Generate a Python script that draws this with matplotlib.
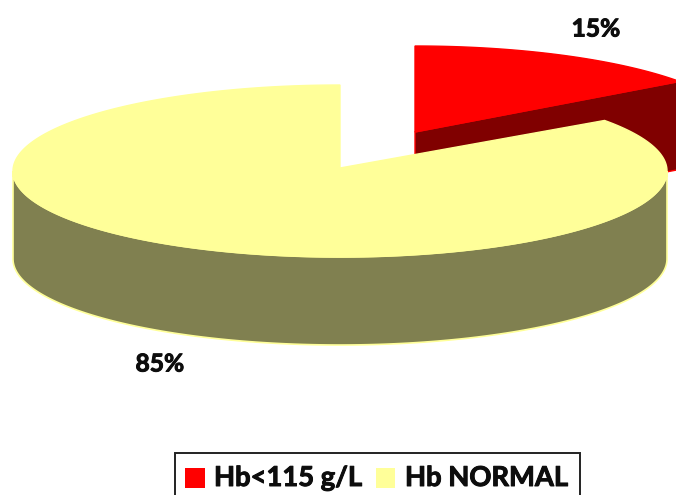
import numpy as np
import matplotlib
matplotlib.use("AGG")
import matplotlib.pyplot as plt
import matplotlib.patheffects as pe
from matplotlib.patches import Polygon, Rectangle

labels = ["Hb<115 g/L", "Hb NORMAL"]
values = [15, 85]
pct_labels = ["15%", "85%"]

top_colors = ["#FF0000", "#FFFF99"]
side_colors = ["#800000", "#808050"]

# pie geometry in pixels
cx, cy = 340, 171
rx, ry = 327, 86
depth = 88
explode = (75, -39)


def rim(a0, a1, ox=0, oy=0, n=200):
    """points on the ellipse, angle in degrees clockwise from 12 o'clock"""
    a = np.radians(np.linspace(a0, a1, n))
    return np.column_stack([cx + ox + rx * np.sin(a), cy + oy - ry * np.cos(a)])


def bold_text(x, y, s, size, ha="center"):
    # the installed Lato comes out too light, thicken it a bit
    t = ax.text(x, y, s, ha=ha, va="center", fontsize=size, fontweight="bold", color="#0d0d0d", zorder=6)
    t.set_path_effects([pe.withStroke(linewidth=0.7, foreground="#0d0d0d")])
    return t


plt.rcParams["font.family"] = ["Lato", "DejaVu Sans"]
fig = plt.figure(figsize=(6.76, 4.95), dpi=100)
ax = fig.add_axes([0, 0, 1, 1])
ax.set_xlim(0, 676)
ax.set_ylim(495, 0)
ax.axis("off")

# angle of the slice border comes from the data
split = 360 * values[0] / sum(values)

# red slice, pulled out
ox, oy = explode
apex = np.array([cx + ox, cy + oy])
red_rim = rim(0, split, ox, oy)
end = red_rim[-1]
cut_face = [apex, end, end + [0, depth], apex + [0, depth]]
ax.add_patch(Polygon(cut_face, fc=side_colors[0], ec=top_colors[0], lw=1, zorder=1))
ax.add_patch(Polygon(np.vstack([apex, red_rim]), fc=top_colors[0], ec=top_colors[0], lw=1, zorder=2))

# yellow slice
front = rim(90, 270)
wall = np.vstack([front, (front + [0, depth])[::-1]])
ax.add_patch(Polygon(wall, fc=side_colors[1], ec=top_colors[1], lw=1.2, zorder=3))
yellow_rim = rim(split, 360, n=400)
ax.add_patch(Polygon(np.vstack([[cx, cy - 3], yellow_rim]), fc=top_colors[1], ec=top_colors[1], lw=1, zorder=4))

bold_text(596, 29, pct_labels[0], 17.7)
bold_text(160, 364, pct_labels[1], 17.7)

# legend box runs off the bottom of the picture
ax.add_patch(Rectangle((174.5, 452.5), 405, 60, fc="white", ec="#222222", lw=1.4, zorder=5))
ax.add_patch(Rectangle((185, 468), 20, 20, fc=top_colors[0], ec="none", zorder=6))
ax.add_patch(Rectangle((376, 468), 19, 20, fc=top_colors[1], ec="none", zorder=6))
bold_text(214, 478, labels[0], 19.7, ha="left")
bold_text(405, 478, labels[1], 19.7, ha="left")

fig.savefig("out.png", dpi=100)
